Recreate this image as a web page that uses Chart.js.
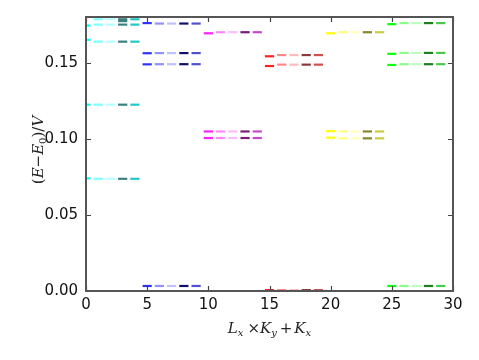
<!DOCTYPE html>
<html>
<head>
<meta charset="utf-8">
<script src="https://cdn.jsdelivr.net/npm/chart.js@4/dist/chart.umd.min.js"></script>
<style>
  html, body { margin: 0; padding: 0; background: #fff; }
  canvas { display: block; }
</style>
</head>
<body>
<canvas id="c" width="479" height="360"></canvas>
<script>
// ---- data ----
const xIndex = [0,1,2,3,4,5,6,7,8,9,10,11,12,13,14,15,16,17,18,19,20,21,22,23,24,25,26,27,28,29];
const xTicks = [0, 5, 10, 15, 20, 25, 30];
const yTicks = [0.00, 0.05, 0.10, 0.15];

// energy levels per group: first K_x of the group, then the others
const cyanFirst    = [0.1744, 0.1650, 0.1224, 0.0740];
const cyanRest     = [0.1785, 0.1750, 0.1638, 0.1224, 0.0737];
const blueFirst    = [0.1760, 0.1562, 0.1489, 0.0033];
const blueRest     = [0.1757, 0.1563, 0.1490, 0.0033];
const magentaFirst = [0.1693, 0.1048, 0.1005];
const magentaRest  = [0.1700, 0.1048, 0.1005];
const redFirst     = [0.1542, 0.1478, 0.0006];
const redRest      = [0.1550, 0.1487, 0.0006];
const yellowFirst  = [0.1693, 0.1050, 0.1007];
const yellowRest   = [0.1700, 0.1048, 0.1003];
const greenFirst   = [0.1753, 0.1558, 0.1485, 0.0033];
const greenRest    = [0.1760, 0.1564, 0.1490, 0.0033];
const cyanExtraK3  = [0.1773];

// ---- styles ----
const groupShades = [
  ['#00ffff', '#80ffff', '#b8ffff', '#3c8080', '#20c8c8'],
  ['#3030ff', '#9090ff', '#c0c0ff', '#10106a', '#5050d0'],
  ['#ff20ff', '#ff88ff', '#ffbbff', '#7a1a7a', '#c848c8'],
  ['#ff2020', '#ff8888', '#ffbbbb', '#8a3a3a', '#d05050'],
  ['#ffff10', '#ffff80', '#ffffb8', '#86862a', '#cccc40'],
  ['#10ff10', '#88ff88', '#bbffbb', '#1a801a', '#48c848']
];
const groups = [
  [cyanFirst, cyanRest], [blueFirst, blueRest], [magentaFirst, magentaRest],
  [redFirst, redRest], [yellowFirst, yellowRest], [greenFirst, greenRest]
];

const datasets = xIndex.map(k => {
  const g = Math.floor(k / 5), j = k % 5;
  const levels = j === 0 ? groups[g][0] : groups[g][1];
  const pts = levels.map(v => ({ x: k, y: v }));
  if (k === 3) cyanExtraK3.forEach(v => pts.push({ x: k, y: v }));
  return {
    data: pts,
    showLine: false,
    pointStyle: 'line',
    pointRadius: 4.6,
    pointHoverRadius: 4.6,
    pointBorderWidth: 2.2,
    borderColor: groupShades[g][j],
    backgroundColor: groupShades[g][j],
    clip: 0
  };
});

const framePlugin = {
  id: 'frame',
  afterDatasetsDraw(chart) {
    const { ctx, chartArea: a, scales } = chart;
    ctx.save();
    ctx.strokeStyle = '#444';
    ctx.lineWidth = 1.2;
    const tl = 5;
    ctx.beginPath();
    xTicks.forEach(t => {
      const px = Math.round(scales.x.getPixelForValue(t)) + 0.5;
      ctx.moveTo(px, a.bottom); ctx.lineTo(px, a.bottom - tl);
      ctx.moveTo(px, a.top); ctx.lineTo(px, a.top + tl);
    });
    yTicks.forEach(t => {
      const py = Math.round(scales.y.getPixelForValue(t)) + 0.5;
      ctx.moveTo(a.left, py); ctx.lineTo(a.left + tl, py);
      ctx.moveTo(a.right, py); ctx.lineTo(a.right - tl, py);
    });
    ctx.stroke();
    ctx.lineWidth = 2;
    ctx.strokeStyle = '#555';
    ctx.strokeRect(a.left, a.top, a.right - a.left, a.bottom - a.top);
    ctx.restore();
  },
  afterDraw(chart) {
    const { ctx, chartArea: a } = chart;
    ctx.save();
    ctx.fillStyle = '#222';
    const big = 'italic 15px "DejaVu Serif"';
    const small = 'italic 10px "DejaVu Serif"';
    const up = '15px "DejaVu Serif"';
    function drawParts(parts, cx, cy) {
      let w = 0;
      parts.forEach(p => { ctx.font = p.f; w += ctx.measureText(p.t).width + (p.gap || 0); });
      let x = cx - w / 2;
      ctx.textBaseline = 'alphabetic';
      ctx.textAlign = 'left';
      parts.forEach(p => {
        ctx.font = p.f;
        ctx.fillText(p.t, x, cy + (p.dy || 0));
        x += ctx.measureText(p.t).width + (p.gap || 0);
      });
    }
    // x label: L_x ×K_y + K_x
    drawParts([
      { t: 'L', f: big },
      { t: 'x', f: small, dy: 3, gap: 4 },
      { t: '×', f: up },
      { t: 'K', f: big },
      { t: 'y', f: small, dy: 3, gap: 3 },
      { t: '+', f: up, gap: 2 },
      { t: 'K', f: big },
      { t: 'x', f: small, dy: 3 }
    ], (a.left + a.right) / 2, 333);
    // y label: (E−E_0)/V
    ctx.translate(38, (a.top + a.bottom) / 2 - 4);
    ctx.rotate(-Math.PI / 2);
    drawParts([
      { t: '(', f: up },
      { t: 'E', f: big },
      { t: '−', f: up },
      { t: 'E', f: big },
      { t: '0', f: '10px "DejaVu Serif"', dy: 3 },
      { t: ')/', f: up },
      { t: 'V', f: big }
    ], 0, 5);
    ctx.restore();
  }
};

new Chart(document.getElementById('c'), {
  type: 'scatter',
  data: { datasets },
  options: {
    responsive: false,
    animation: false,
    devicePixelRatio: 1,
    layout: { padding: { top: 16, right: 26, left: 0, bottom: 0 } },
    plugins: { legend: { display: false }, tooltip: { enabled: false } },
    scales: {
      x: {
        type: 'linear', min: 0, max: 30,
        afterBuildTicks: s => { s.ticks = xTicks.map(v => ({ value: v })); },
        grid: { display: false, drawTicks: false },
        border: { display: false },
        ticks: { color: '#111', font: { family: 'DejaVu Sans', size: 15 }, padding: 5, maxRotation: 0,
                 callback: v => String(v) },
        afterFit: s => { s.height = 69; }
      },
      y: {
        type: 'linear', min: 0, max: 0.18,
        afterBuildTicks: s => { s.ticks = yTicks.map(v => ({ value: v })); },
        grid: { display: false, drawTicks: false },
        border: { display: false },
        ticks: { color: '#111', font: { family: 'DejaVu Sans', size: 15 }, padding: 8,
                 callback: v => Number(v).toFixed(2) },
        afterFit: s => { s.width = 86; }
      }
    }
  },
  plugins: [framePlugin]
});
</script>
</body>
</html>
